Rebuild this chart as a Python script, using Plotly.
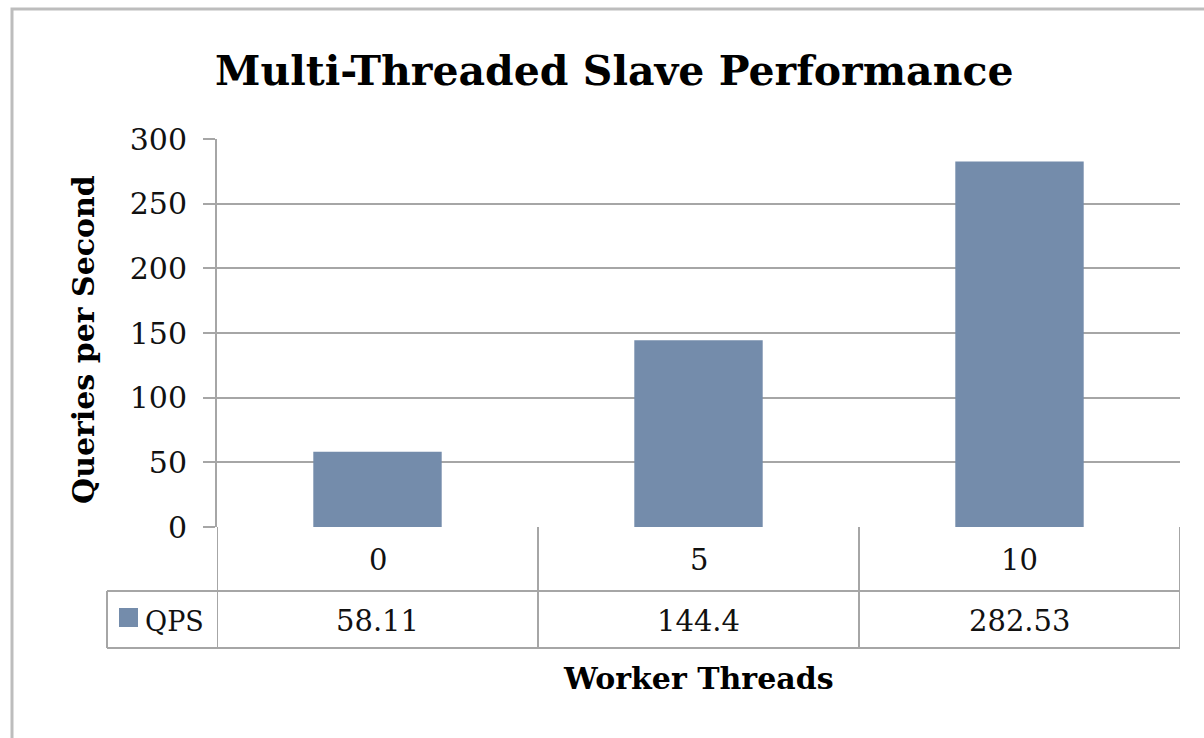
import plotly.graph_objects as go

# ---- data ----
categories = ["0", "5", "10"]
qps_values = [58.11, 144.4, 282.53]
value_labels = ["58.11", "144.4", "282.53"]
series_name = "QPS"
y_ticks = [0, 50, 100, 150, 200, 250, 300]

title_text = "Multi-Threaded Slave Performance"
x_title = "Worker Threads"
y_title = "Queries per Second"

# ---- style / layout ----
W, H = 1204, 738
L, R, T, B = 217, 1180, 139, 527  # plot area in pixels
BAR_COLOR = "#748cab"
GRID = "#a6a6a6"
FONT = "DejaVu Serif"

def px_x(x):
    return (x - L) / (R - L)

def px_y(y):
    return (B - y) / (B - T)

xs = list(range(len(categories)))

fig = go.Figure()
fig.add_trace(go.Bar(
    x=xs, y=qps_values, width=0.4, name=series_name,
    marker=dict(color=BAR_COLOR, line=dict(width=0)),
    showlegend=False, hoverinfo="skip",
))

shapes = []
line_style = dict(color=GRID, width=2)
row1 = px_y(591)
row2 = px_y(648)
leg_left = px_x(107)
for yy in (row1, row2):
    shapes.append(dict(type="line", xref="paper", yref="paper",
                       x0=leg_left, x1=1, y0=yy, y1=yy, line=line_style, layer="above"))
for i in range(len(categories) + 1):
    shapes.append(dict(type="line", xref="x", yref="paper",
                       x0=i - 0.5, x1=i - 0.5, y0=0, y1=row2, line=line_style, layer="above"))
shapes.append(dict(type="line", xref="paper", yref="paper",
                   x0=leg_left, x1=leg_left, y0=row1, y1=row2, line=line_style, layer="above"))
shapes.append(dict(type="rect", xref="paper", yref="paper",
                   x0=px_x(119), x1=px_x(138), y0=px_y(608), y1=px_y(627),
                   fillcolor=BAR_COLOR, line=dict(width=0)))
shapes.append(dict(type="rect", xref="paper", yref="paper",
                   x0=px_x(12), x1=px_x(1230), y0=px_y(9), y1=px_y(760),
                   line=dict(color="#bdbdbd", width=3), fillcolor="rgba(0,0,0,0)"))

annotations = []
for i, c in enumerate(categories):
    annotations.append(dict(x=i, xref="x", y=px_y(560), yref="paper", text=c,
                            showarrow=False, font=dict(family=FONT, size=29, color="#111"),
                            xanchor="center", yanchor="middle"))
for i, v in enumerate(value_labels):
    annotations.append(dict(x=i, xref="x", y=px_y(621), yref="paper", text=v,
                            showarrow=False, font=dict(family=FONT, size=29, color="#111"),
                            xanchor="center", yanchor="middle"))
annotations.append(dict(x=px_x(143), xref="paper", y=px_y(621), yref="paper", text=series_name,
                        showarrow=False, font=dict(family=FONT, size=27, color="#111"),
                        xanchor="left", yanchor="middle"))
annotations.append(dict(x=px_x(614), xref="paper", y=px_y(71), yref="paper", text="<b>%s</b>" % title_text,
                        showarrow=False, font=dict(family=FONT, size=41, color="#000"),
                        xanchor="center", yanchor="middle"))
annotations.append(dict(x=px_x(698), xref="paper", y=px_y(678), yref="paper", text="<b>%s</b>" % x_title,
                        showarrow=False, font=dict(family=FONT, size=30, color="#000"),
                        xanchor="center", yanchor="middle"))
annotations.append(dict(x=px_x(83), xref="paper", y=px_y(340), yref="paper", text="<b>%s</b>" % y_title,
                        showarrow=False, font=dict(family=FONT, size=30, color="#000"),
                        textangle=-90, xanchor="center", yanchor="middle"))

fig.update_layout(
    width=W, height=H,
    margin=dict(l=L, r=W - R, t=T, b=H - B, pad=0),
    paper_bgcolor="white", plot_bgcolor="white",
    shapes=shapes, annotations=annotations,
)
fig.update_xaxes(range=[-0.5, len(categories) - 0.5], showticklabels=False,
                 showgrid=False, zeroline=False, showline=False, ticks="", fixedrange=True)
fig.update_yaxes(range=[0, 300], tickvals=y_ticks, showgrid=True, gridcolor=GRID, gridwidth=2,
                 zeroline=False, showline=True, linecolor=GRID, linewidth=2,
                 ticks="outside", ticklen=12, tickwidth=2, tickcolor=GRID,
                 ticklabelstandoff=10,
                 tickfont=dict(family=FONT, size=30, color="#111"), fixedrange=True)

fig.write_html("out.html", config={"displayModeBar": False},
               post_script="document.body.style.margin='0';document.body.style.overflow='hidden';")
